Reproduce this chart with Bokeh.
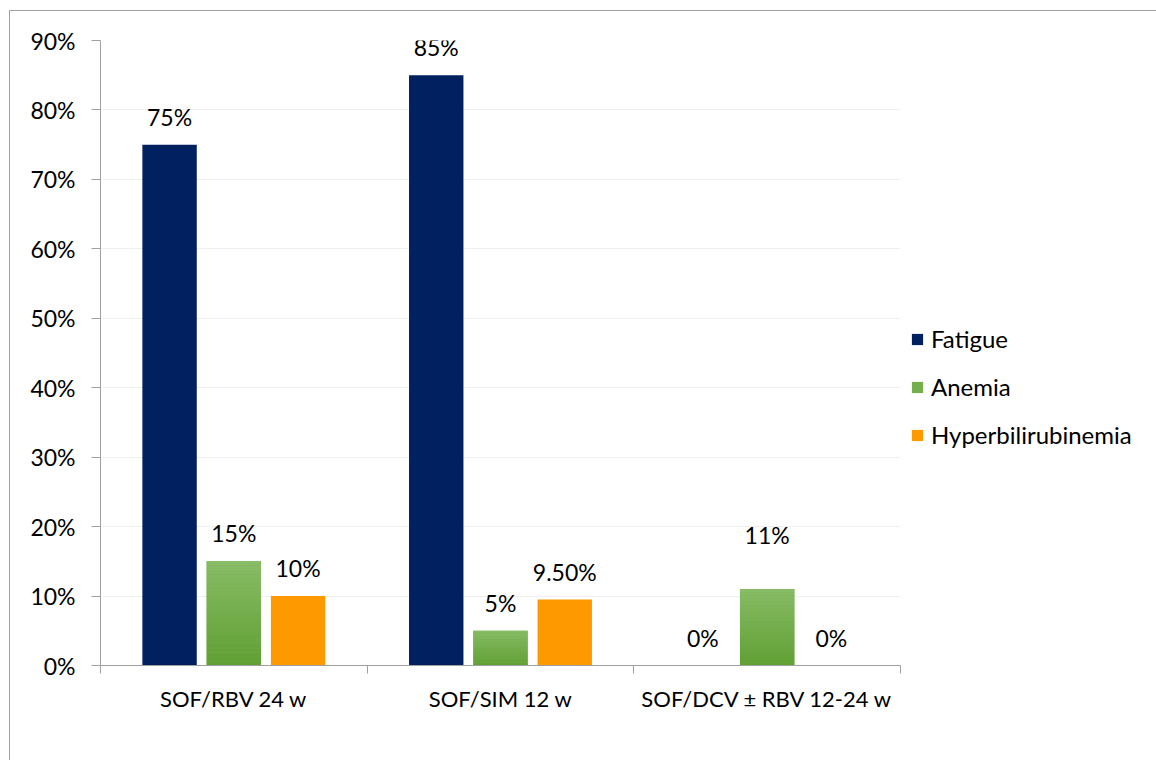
import numpy as np
from bokeh.plotting import figure
from bokeh.models import (ColumnDataSource, Range1d, FixedTicker, NumeralTickFormatter,
                          Legend, LegendItem, LabelSet)
from bokeh.core.properties import value
from bokeh.embed import file_html
from bokeh.resources import INLINE

# ---------------- data ----------------
categories = ["SOF/RBV 24 w", "SOF/SIM 12 w", "SOF/DCV \u00b1 RBV 12-24 w"]
series_names = ["Fatigue", "Anemia", "Hyperbilirubinemia"]
fatigue = [0.75, 0.85, 0.0]
anemia = [0.15, 0.05, 0.11]
hyperbili = [0.10, 0.095, 0.0]
fatigue_labels = ["75%", "85%", "0%"]
anemia_labels = ["15%", "5%", "11%"]
hyperbili_labels = ["10%", "9.50%", "0%"]
y_ticks = [0.0, 0.1, 0.2, 0.3, 0.4, 0.5, 0.6, 0.7, 0.8, 0.9]

# ---------------- style ----------------
FONT = "Lato"
NAVY = "#002060"
ORANGE = "#FF9900"
GREEN_MID = "#74AE4D"
GREEN_TOP = np.array([0x88, 0xBC, 0x66])
GREEN_BOT = np.array([0x60, 0x9F, 0x33])
AXIS = "#A0A0A0"
GRID = "#EFEFEF"
BAR_W = 0.204
OFFSETS = [-0.241, 0.0, 0.241]
LABEL_OFF = 28
FS = "23px"
FS_X = "22px"
FS_LEG = "24px"

n = len(categories)
centers = [i + 0.5 for i in range(n)]

p = figure(frame_width=800, frame_height=625, output_backend="svg", toolbar_location=None,
           x_range=Range1d(0, n), y_range=Range1d(0, 0.9),
           min_border_left=90, min_border_right=256, min_border_top=29, min_border_bottom=95,
           margin=(10, 0, 0, 9))
p.styles = {"border-left": "1px solid #A0A0A0", "border-top": "1px solid #A0A0A0"}
p.outline_line_color = None
p.background_fill_color = "white"
p.border_fill_color = "white"

# grid
p.xgrid.grid_line_color = None
p.ygrid.grid_line_color = GRID
p.ygrid.grid_line_width = 1
p.ygrid.ticker = FixedTicker(ticks=y_ticks)

# y axis
p.yaxis.ticker = FixedTicker(ticks=y_ticks)
p.yaxis.formatter = NumeralTickFormatter(format="0%")
p.yaxis.axis_line_color = AXIS
p.yaxis.major_tick_line_color = AXIS
p.yaxis.major_tick_out = 9
p.yaxis.major_tick_in = 0
p.yaxis.minor_tick_line_color = None
p.yaxis.major_label_standoff = 16
p.yaxis.major_label_text_font = FONT
p.yaxis.major_label_text_font_size = FS
p.yaxis.major_label_text_color = "black"

# x axis
p.xaxis.ticker = FixedTicker(ticks=centers, minor_ticks=list(range(n + 1)))
p.xaxis.major_label_overrides = {c: lab for c, lab in zip(centers, categories)}
p.xaxis.axis_line_color = AXIS
p.xaxis.major_tick_line_color = None
p.xaxis.major_tick_out = 0
p.xaxis.major_tick_in = 0
p.xaxis.minor_tick_line_color = AXIS
p.xaxis.minor_tick_out = 8
p.xaxis.minor_tick_in = 0
p.xaxis.major_label_standoff = 11
p.xaxis.major_label_text_font = FONT
p.xaxis.major_label_text_font_size = FS_X
p.xaxis.major_label_text_color = "black"

# bars
xs_f = [c + OFFSETS[0] for c in centers]
xs_a = [c + OFFSETS[1] for c in centers]
xs_h = [c + OFFSETS[2] for c in centers]

r_f = p.vbar(x=xs_f, top=fatigue, bottom=0, width=BAR_W, fill_color=NAVY, line_color=None)
r_a = p.vbar(x=xs_a, top=anemia, bottom=0, width=BAR_W, fill_color=GREEN_MID, line_color=None)
r_h = p.vbar(x=xs_h, top=hyperbili, bottom=0, width=BAR_W, fill_color=ORANGE, line_color=None)

# gradient slices on the anemia bars
N = 24
gx, gb, gt, gc = [], [], [], []
for x, v in zip(xs_a, anemia):
    for k in range(N):
        t = (k + 0.5) / N
        col = GREEN_BOT + (GREEN_TOP - GREEN_BOT) * t
        gx.append(x)
        gb.append(v * k / N)
        gt.append(v * (k + 1) / N)
        gc.append("#%02x%02x%02x" % tuple(int(round(c)) for c in col))
p.vbar(x=gx, bottom=gb, top=gt, width=BAR_W, fill_color=gc, line_color=None)

# value labels
lab_x = xs_f + xs_a + xs_h
lab_y = fatigue + anemia + hyperbili
lab_t = fatigue_labels + anemia_labels + hyperbili_labels
lab_off = [LABEL_OFF] * len(lab_t)
lab_off[5] = 54  # the "11%" label sits higher in the original
src = ColumnDataSource(dict(x=lab_x, y=lab_y, t=lab_t, off=lab_off))
labels = LabelSet(x="x", y="y", text="t", y_offset="off", source=src,
                  text_align="center", text_baseline="middle",
                  text_font=value(FONT), text_font_size=value(FS), text_color="black")
p.add_layout(labels)

# legend
legend = Legend(items=[LegendItem(label=series_names[0], renderers=[r_f]),
                       LegendItem(label=series_names[1], renderers=[r_a]),
                       LegendItem(label=series_names[2], renderers=[r_h])],
                location=(10, 216), orientation="vertical",
                glyph_width=14, glyph_height=14, label_standoff=7,
                label_height=14, spacing=19, padding=0, margin=0,
                border_line_color=None, background_fill_alpha=0,
                label_text_font=FONT, label_text_font_size=FS_LEG, label_text_color="black")
p.add_layout(legend, "right")

open("out.html", "w").write(file_html(p, INLINE))
